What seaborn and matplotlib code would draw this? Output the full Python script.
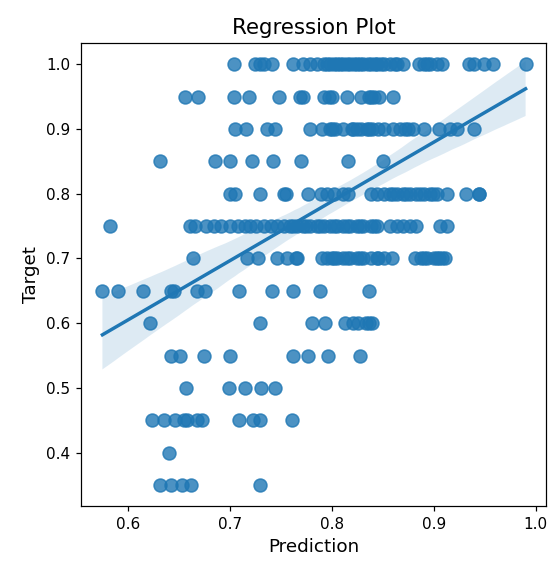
import pandas as pd
import matplotlib
matplotlib.use("Agg")
import matplotlib.pyplot as plt
import seaborn as sns

# Predictions, grouped by target value
# (dense strips are read with repeats where the dots overlap)
pred_100 = [0.704, 0.725, 0.733, 0.741, 0.762, 0.772, 0.779, 0.792, 0.798,
            0.805, 0.811, 0.818, 0.825, 0.831, 0.838, 0.844, 0.851, 0.857,
            0.864, 0.870, 0.885, 0.890, 0.896, 0.903, 0.908, 0.934, 0.939,
            0.949, 0.958, 0.990, 0.730, 0.795, 0.802, 0.815, 0.822, 0.835,
            0.842, 0.848, 0.862, 0.893, 0.808, 0.828, 0.785]
pred_095 = [0.656, 0.669, 0.704, 0.719, 0.748, 0.769, 0.772, 0.792, 0.797,
            0.815, 0.829, 0.836, 0.841, 0.846, 0.860, 0.838, 0.800]
pred_090 = [0.705, 0.716, 0.736, 0.744, 0.779, 0.790, 0.798, 0.803, 0.811,
            0.821, 0.825, 0.829, 0.834, 0.839, 0.851, 0.860, 0.867, 0.872,
            0.880, 0.890, 0.905, 0.916, 0.923, 0.939, 0.800, 0.820, 0.836,
            0.845, 0.875]
pred_085 = [0.631, 0.685, 0.700, 0.722, 0.742, 0.770, 0.816, 0.850]
pred_080 = [0.700, 0.705, 0.730, 0.753, 0.777, 0.789, 0.795, 0.802, 0.811,
            0.816, 0.838, 0.844, 0.851, 0.857, 0.864, 0.870, 0.877, 0.883,
            0.890, 0.896, 0.903, 0.913, 0.932, 0.944, 0.755, 0.860, 0.873,
            0.886, 0.899, 0.944]
pred_075 = [0.582, 0.661, 0.666, 0.677, 0.691, 0.708, 0.715, 0.726, 0.733,
            0.746, 0.753, 0.759, 0.766, 0.772, 0.779, 0.785, 0.792, 0.798,
            0.805, 0.811, 0.818, 0.825, 0.831, 0.838, 0.844, 0.857, 0.864,
            0.870, 0.877, 0.883, 0.906, 0.913, 0.740, 0.762, 0.775, 0.788,
            0.802, 0.815, 0.828, 0.841, 0.684, 0.700, 0.720]
pred_070 = [0.664, 0.717, 0.728, 0.746, 0.756, 0.766, 0.790, 0.795, 0.800,
            0.805, 0.811, 0.818, 0.825, 0.831, 0.838, 0.844, 0.851, 0.859,
            0.882, 0.887, 0.893, 0.900, 0.905, 0.911, 0.765, 0.802, 0.815,
            0.828, 0.845, 0.903, 0.890, 0.908]
pred_065 = [0.575, 0.590, 0.615, 0.642, 0.645, 0.668, 0.676, 0.709, 0.741,
            0.762, 0.788, 0.836]
pred_060 = [0.622, 0.730, 0.781, 0.793, 0.813, 0.821, 0.833, 0.839, 0.826,
            0.836]
pred_055 = [0.642, 0.651, 0.675, 0.700, 0.762, 0.777, 0.796, 0.828]
pred_050 = [0.657, 0.699, 0.715, 0.731, 0.744]
pred_045 = [0.624, 0.635, 0.646, 0.655, 0.658, 0.668, 0.673, 0.709, 0.723,
            0.730, 0.761]
pred_040 = [0.640]
pred_035 = [0.631, 0.642, 0.653, 0.662, 0.730]

targets = [1.0, 0.95, 0.9, 0.85, 0.8, 0.75, 0.7, 0.65, 0.6, 0.55, 0.5, 0.45, 0.4, 0.35]
groups = [pred_100, pred_095, pred_090, pred_085, pred_080, pred_075, pred_070,
          pred_065, pred_060, pred_055, pred_050, pred_045, pred_040, pred_035]

rows = []
for t, preds in zip(targets, groups):
    for p in preds:
        rows.append({"Prediction": p, "Target": t})
df = pd.DataFrame(rows)

fig = plt.figure(figsize=(548 / 110, 564 / 110), dpi=110)
ax = fig.add_axes([81 / 548, 1 - 506 / 564, 465 / 548, 462.7 / 564])

sns.regplot(
    data=df,
    x="Prediction",
    y="Target",
    ax=ax,
    seed=0,
    scatter_kws={"s": 72}
)

ax.set_xlim(0.554, 1.010)
ax.set_ylim(0.3175, 1.0325)

ax.set_title("Regression Plot", fontsize=14)
ax.set_xlabel("Prediction", fontsize=12)
ax.set_ylabel("Target", fontsize=12)

plt.savefig("out.png", dpi=110)
